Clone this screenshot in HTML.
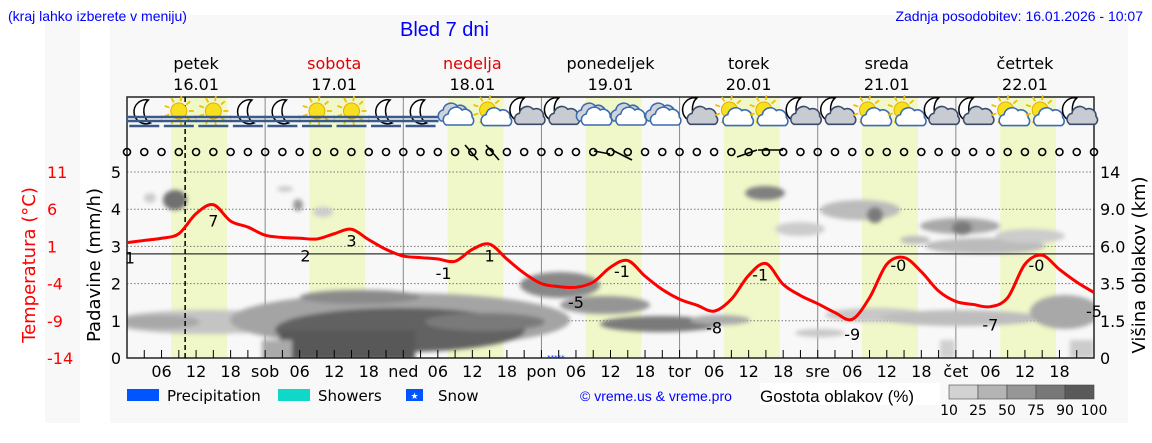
<!DOCTYPE html>
<html><head><meta charset="utf-8">
<style>
html,body{margin:0;padding:0;background:#fff;}
body{width:1152px;height:443px;overflow:hidden;position:relative;font-family:"DejaVu Sans","Liberation Sans",sans-serif;}
svg{position:absolute;left:0;top:0;}
</style></head>
<body>
<svg id="chart" width="1152" height="443" viewBox="0 0 1152 443" xmlns="http://www.w3.org/2000/svg" font-family="DejaVu Sans, Liberation Sans, sans-serif">
  <defs>
    <filter id="blur" x="-20%" y="-50%" width="140%" height="200%"><feGaussianBlur stdDeviation="2"/></filter>
    <clipPath id="plotclip"><rect x="127" y="160" width="967" height="198"/></clipPath>
  </defs>
  <rect x="45" y="15" width="35" height="408" fill="#f8f8f8"/>
  <rect x="110" y="15" width="1018" height="408" fill="#f8f8f8"/>
  <text x="8" y="21" font-size="14" fill="#0000ff" font-family="Liberation Sans, sans-serif">(kraj lahko izberete v meniju)</text>
  <text x="400" y="36" font-size="20" fill="#0000ff" font-family="Liberation Sans, sans-serif">Bled 7 dni</text>
  <text x="1143" y="21" font-size="14" fill="#0000ff" text-anchor="end" font-family="Liberation Sans, sans-serif">Zadnja posodobitev: 16.01.2026 - 10:07</text>
  <g id="daybands"></g>
  <g id="grid"></g>
  <g id="clouds" clip-path="url(#plotclip)" filter="url(#blur)">
    <ellipse cx="205" cy="322" rx="95" ry="12" fill="#c4c4c4"/>
    <ellipse cx="160" cy="322" rx="40" ry="7" fill="#a8a8a8"/>
    <ellipse cx="400" cy="320" rx="170" ry="27" fill="#a4a4a4"/>
    <ellipse cx="400" cy="330" rx="125" ry="22" fill="#626262"/>
    <rect x="280" y="330" width="135" height="30" fill="#585858"/>
    <rect x="262" y="340" width="30" height="20" fill="#aaaaaa"/>
    <ellipse cx="360" cy="297" rx="60" ry="7" fill="#8a8a8a"/>
    <ellipse cx="485" cy="322" rx="60" ry="9" fill="#7a7a7a"/>
    <ellipse cx="560" cy="285" rx="40" ry="13" fill="#888888"/>
    <ellipse cx="605" cy="305" rx="45" ry="9" fill="#959595"/>
    <ellipse cx="660" cy="324" rx="60" ry="8" fill="#7a7a7a"/>
    <ellipse cx="720" cy="320" rx="30" ry="5" fill="#aaaaaa"/>
    <ellipse cx="820" cy="333" rx="25" ry="4" fill="#c8c8c8"/>
    <ellipse cx="875" cy="315" rx="50" ry="7" fill="#c8c8c8"/>
    <ellipse cx="960" cy="318" rx="80" ry="8" fill="#bdbdbd"/>
    <ellipse cx="1065" cy="312" rx="35" ry="17" fill="#a8a8a8"/>
    <rect x="1070" y="340" width="24" height="18" fill="#cccccc"/>
    <rect x="940" y="340" width="15" height="18" fill="#d0d0d0"/>
    <ellipse cx="175" cy="200" rx="12" ry="10" fill="#707070"/>
    <ellipse cx="150" cy="198" rx="6" ry="5" fill="#cccccc"/>
    <ellipse cx="298" cy="205" rx="5" ry="6" fill="#999999"/>
    <ellipse cx="323" cy="212" rx="10" ry="5" fill="#cccccc"/>
    <ellipse cx="285" cy="189" rx="8" ry="3" fill="#cccccc"/>
    <ellipse cx="765" cy="193" rx="20" ry="7" fill="#808080"/>
    <ellipse cx="800" cy="229" rx="25" ry="7" fill="#cccccc"/>
    <ellipse cx="860" cy="210" rx="40" ry="10" fill="#bbbbbb"/>
    <ellipse cx="875" cy="215" rx="8" ry="8" fill="#7a7a7a"/>
    <ellipse cx="960" cy="226" rx="40" ry="8" fill="#a8a8a8"/>
    <ellipse cx="962" cy="228" rx="10" ry="7" fill="#7a7a7a"/>
    <ellipse cx="985" cy="246" rx="60" ry="8" fill="#bbbbbb"/>
    <ellipse cx="915" cy="240" rx="15" ry="4" fill="#bbbbbb"/>
    <ellipse cx="1030" cy="236" rx="35" ry="7" fill="#cccccc"/>
  </g>
  <g id="frame"></g>
  <g id="icons"></g>
  <g id="wind"></g>
  <g id="temp"></g>
  <g id="axes"></g>
  <g id="legend">
    <rect x="127" y="389" width="32" height="12" fill="#0055ff"/>
    <text x="167" y="401" font-size="15" fill="#000">Precipitation</text>
    <rect x="278" y="389" width="32" height="12" fill="#10d8c8"/>
    <text x="318" y="401" font-size="15" fill="#000">Showers</text>
    <rect x="406" y="389" width="17" height="12" fill="#0055ff"/>
    <text x="414.5" y="399" font-size="9" fill="#fff" text-anchor="middle">★</text>
    <text x="438" y="401" font-size="15" fill="#000">Snow</text>
    <text x="580" y="401" font-size="14" fill="#0000ff" font-family="Liberation Sans, sans-serif">© vreme.us &amp; vreme.pro</text>
    <rect x="760" y="383" width="180" height="22" fill="#fff"/>
    <text x="760" y="402" font-size="17" fill="#000" font-family="Liberation Sans, sans-serif">Gostota oblakov (%)</text>
  </g>
</svg>
<script>
// ---- data ----
const tempHours = [0,3,6,9,12,15,18,21,24,27,30,33,36,39,42,45,48,51,54,57,60,63,66,69,72,75,78,81,84,87,90,93,96,99,102,105,108,111,114,117,120,123,126,129,132,135,138,141,144,147,150,153,156,159,162,165,168];
const tempValues = [1.5,1.8,2.1,2.7,5.4,6.6,4.4,3.6,2.5,2.2,2.1,2.0,2.7,3.3,1.9,0.6,-0.3,-0.5,-0.7,-1.0,0.6,1.3,-0.7,-2.6,-4.0,-4.4,-4.5,-3.8,-1.8,-0.9,-3.0,-4.8,-6.1,-6.9,-7.7,-6.1,-2.9,-1.3,-4.1,-5.6,-6.7,-7.9,-8.8,-5.9,-1.4,-0.5,-2.4,-5.0,-6.4,-6.8,-7.1,-5.9,-1.4,-0.2,-2.1,-3.8,-5.2];
const tempLabelHours = [0.5,15,31,39,55,63,78,86,102,110,126,134,150,158,168];
const tempLabels = ["1","7","2","3","-1","1","-5","-1","-8","-1","-9","-0","-7","-0","-5"];
const tempLabelValues = [-0.5,4.5,-0.2,1.8,-2.6,-0.2,-6.5,-2.3,-9.9,-2.8,-10.8,-1.5,-9.5,-1.5,-7.7];
const dayNames = ["petek","sobota","nedelja","ponedeljek","torek","sreda","četrtek"];
const dayDates = ["16.01","17.01","18.01","19.01","20.01","21.01","22.01"];
const dayRed = [false,true,true,false,false,false,false];
const dayAbbr = ["","sob","ned","pon","tor","sre","čet"];
const precipTicks = [0,1,2,3,4,5];
const tempTicks = [11,6,1,-4,-9,-14];
const cloudTicks = ["0","1.5","3.5","6.0","9.0","14"];
const iconTypes = ["mf","sf","sf","mf","mf","sf","sf","mf","mf","c","sc","mc","mc","c","c","c","mc","sc","sc","mc","mc","sc","sc","mc","mc","sc","sc","mc"];
const densityTicks = ["10","25","50","75","90","100"];

// ---- scales ----
const X0=127, X1=1094, HOURS=168;
const x = h => X0 + (X1-X0)*h/HOURS;
const yP = v => 358 - v*37.2;
const yT = t => 358 - (t+14)*37.2/5;
const NS="http://www.w3.org/2000/svg";
function mk(tag, attrs, parent, text){
  const e=document.createElementNS(NS,tag);
  for(const k in attrs) e.setAttribute(k,attrs[k]);
  if(text!==undefined) e.textContent=text;
  parent.appendChild(e); return e;
}
const g = id => document.getElementById(id);

for(let d=0;d<7;d++){
  const r=mk('rect',{x:x(d*24+7.7),y:97,width:x(17.4)-x(7.7),height:261,fill:'#f0f7c8'},g('daybands'));
  
  
}
for(const v of precipTicks.slice(1)){
  const l=mk('line',{x1:X0,x2:X1,y1:yP(v),y2:yP(v),stroke:'#777','stroke-width':1,'stroke-dasharray':'1.5,2'},g('grid'));
  
  
}
for(let d=1;d<7;d++){
  const l=mk('line',{x1:x(d*24),x2:x(d*24),y1:97,y2:358,stroke:'#888','stroke-width':1},g('grid'));
  
  
}
const fr=g('frame');
const zl=mk('line',{x1:X0,x2:X1,y1:yT(0),y2:yT(0),stroke:'#333','stroke-width':1.2},fr);


const box=mk('path',{d:`M${X0},97 H${X1} V358 H${X0} Z`,fill:'none',stroke:'#222','stroke-width':1.5},fr);


const nowl=mk('line',{x1:x(10.1),x2:x(10.1),y1:97,y2:358,stroke:'#000','stroke-width':1.5,'stroke-dasharray':'5,3'},fr);


for(let h=3;h<HOURS;h+=3){
  const t=mk('line',{x1:x(h),x2:x(h),y1:358,y2:350,stroke:'#000','stroke-width':1},fr);
  
  
}
const sn=mk('text',{x:x(74.5),y:360,'font-size':7,fill:'#0033ff','text-anchor':'middle'},fr,'*****');



const ax=g('axes');
for(let d=0;d<7;d++){
  const cx=x(d*24+12);
  const n=mk('text',{x:cx,y:69,'font-size':16,'text-anchor':'middle',fill:dayRed[d]?'#e00000':'#000'},ax,dayNames[d]);
  
  
  const dt=mk('text',{x:cx,y:90,'font-size':16,'text-anchor':'middle',fill:'#000'},ax,dayDates[d]);
  
  
  const labs=[dayAbbr[d],"06","12","18"];
  for(let i=0;i<4;i++){
    if(!labs[i]) continue;
    const t=mk('text',{x:x(d*24+i*6),y:377,'font-size':16,'text-anchor':'middle',fill:'#000'},ax,labs[i]);
    
    
  }
}
precipTicks.forEach(v=>{
  const t=mk('text',{x:121,y:yP(v)+6,'font-size':16,'text-anchor':'end',fill:'#000'},ax,String(v));
  
  
});
tempTicks.forEach(v=>{
  const t=mk('text',{x:47,y:yT(v)+6,'font-size':16,fill:'#ff0000'},ax,String(v));
  
  
});
cloudTicks.forEach((v,i)=>{
  const t=mk('text',{x:1100,y:yP(i)+6,'font-size':16,fill:'#000'},ax,v);
  
  
});
const t1=mk('text',{transform:'translate(35,265) rotate(-90)','font-size':18,'text-anchor':'middle',fill:'#ff0000'},ax,'Temperatura (°C)');


const t2=mk('text',{transform:'translate(100,265) rotate(-90)','font-size':18,'text-anchor':'middle',fill:'#000'},ax,'Padavine (mm/h)');


const t3=mk('text',{transform:'translate(1145,265) rotate(-90)','font-size':18,'text-anchor':'middle',fill:'#000'},ax,'Višina oblakov (km)');



const tg=g('temp');
let pts=tempHours.map((h,i)=>[x(h),yT(tempValues[i])]);
let d=`M${pts[0][0]},${pts[0][1]}`;
for(let i=0;i<pts.length-1;i++){
  const p0=pts[Math.max(0,i-1)],p1=pts[i],p2=pts[i+1],p3=pts[Math.min(pts.length-1,i+2)];
  const c1=[p1[0]+(p2[0]-p0[0])/6,p1[1]+(p2[1]-p0[1])/6];
  const c2=[p2[0]-(p3[0]-p1[0])/6,p2[1]-(p3[1]-p1[1])/6];
  d+=` C${c1[0]},${c1[1]} ${c2[0]},${c2[1]} ${p2[0]},${p2[1]}`;
}
const tl=mk('path',{d:d,fill:'none',stroke:'#ff0000','stroke-width':3,'stroke-linejoin':'round'},tg);


tempLabels.forEach((s,i)=>{
  const t=mk('text',{x:x(tempLabelHours[i]),y:yT(tempLabelValues[i])+6,'font-size':16,'text-anchor':'middle',fill:'#000'},tg,s);
  
  
});

const wg=g('wind');
for(let h=0;h<=HOURS;h+=3){
  const c=mk('circle',{cx:x(h),cy:152,r:3.5,fill:'none',stroke:'#000','stroke-width':1.6},wg);
  
  
}
[[465,145,478,160],[486,145,499,160],[594,151,610,154],[612,150,632,160],[737,157,757,150],[758,150,783,150]].forEach(a=>{
  const l=mk('line',{x1:a[0],y1:a[1],x2:a[2],y2:a[3],stroke:'#000','stroke-width':1.6},wg);
  
  
});

const ig=g('icons');
function fog(gr,cx){
  mk('path',{d:`M${cx-18},117 h36 M${cx-18},121 h36 M${cx-15},126 h30`,stroke:'#3a5a8a','stroke-width':2.5,fill:'none'},gr);
}
function moon(gr,cx,cy,s){
  mk('path',{d:`M${cx+4*s},${cy-12*s} A12 12 0 1 0 ${cx+6*s},${cy+11*s} A10 13 0 0 1 ${cx+4*s},${cy-12*s} Z`,fill:'#fff',stroke:'#000','stroke-width':1.5},gr);
}
function sun(gr,cx,cy,r){
  for(let a=0;a<360;a+=40){const rd=a*Math.PI/180;
    mk('line',{x1:cx+Math.cos(rd)*(r+2),y1:cy+Math.sin(rd)*(r+2),x2:cx+Math.cos(rd)*(r+7),y2:cy+Math.sin(rd)*(r+7),stroke:'#f0c000','stroke-width':1.8},gr);}
  mk('circle',{cx:cx,cy:cy,r:r,fill:'#f8e020',stroke:'#e0b000','stroke-width':1},gr);
}
function cloud(gr,cx,cy,s,fill,stroke){
  mk('path',{d:`M${cx-12*s},${cy+7*s} a6 6 0 0 1 2,-11 a8 8 0 0 1 14,-4 a7 7 0 0 1 10,7 a5 5 0 0 1 -1,8 Z`,fill:fill,stroke:stroke,'stroke-width':1.6},gr);
}
iconTypes.forEach((tp,i)=>{
  const cx=x(3+6*i);
  const gr=mk('g',{},ig);
  
  
  if(tp==='mf'){moon(gr,cx,112,1);fog(gr,cx);}
  else if(tp==='sf'){sun(gr,cx,111,8);fog(gr,cx);}
  else if(tp==='c'){cloud(gr,cx-2,114,1,'#d0d4da','#3a6ab0');cloud(gr,cx+3,118,1,'#fff','#3a6ab0');}
  else if(tp==='sc'){sun(gr,cx-2,110,8);cloud(gr,cx+4,120,0.8,'#fff','#3a6ab0');}
  else if(tp==='mc'){moon(gr,cx-4,110,1);cloud(gr,cx+4,118,0.9,'#c8ccd2','#3a4a6a');}
});

const lg=g('legend');
const shades=['#d2d2d2','#b4b4b4','#969696','#787878','#5a5a5a'];
shades.forEach((c,i)=>{
  const r=mk('rect',{x:949+i*29,y:385,width:29,height:14,fill:c,stroke:'#444','stroke-width':0.6},lg);
  
  
});
densityTicks.forEach((s,i)=>{
  const t=mk('text',{x:949+i*29,y:415,'font-size':14,'text-anchor':'middle',fill:'#000'},lg,s);
  
  
});
</script>
</body></html>
